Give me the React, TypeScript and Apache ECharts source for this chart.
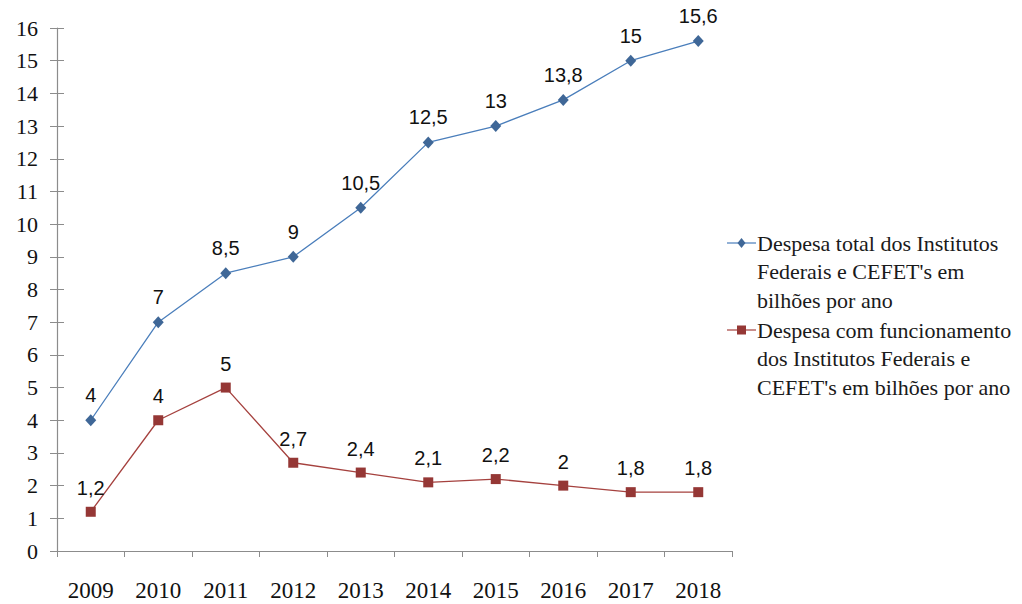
import React, { useEffect, useRef } from "react";
import * as echarts from "echarts";

const years = ["2009", "2010", "2011", "2012", "2013", "2014", "2015", "2016", "2017", "2018"];
const totalSpend = [4, 7, 8.5, 9, 10.5, 12.5, 13, 13.8, 15, 15.6];
const operatingSpend = [1.2, 4, 5, 2.7, 2.4, 2.1, 2.2, 2, 1.8, 1.8];
const legendNames = [
  ["Despesa total dos Institutos", "Federais e CEFET's em", "bilhões por ano"],
  ["Despesa com funcionamento", "dos Institutos Federais e", "CEFET's em bilhões por ano"],
];

const BLUE_LINE = "#4a7ebb";
const BLUE_MARK = "#3f6797";
const RED_LINE = "#a5413e";
const RED_MARK = "#953735";
const AXIS = "#8c8c8c";
const SERIF = "Liberation Serif";
const SANS = "Liberation Sans";

export default function App() {
  const ref = useRef<HTMLDivElement>(null);
  useEffect(() => {
    if (!ref.current) return;
    const chart = echarts.init(ref.current, undefined, { renderer: "svg" });
    const fmt = (p: any) => String(p.value).replace(".", ",");
    const legendGraphic = (idx: number, top: number, color: string, markColor: string, diamond: boolean) => {
      const children: any[] = [
        { type: "line", shape: { x1: 727, y1: top, x2: 756, y2: top }, style: { stroke: color, lineWidth: 1.2 } },
        diamond
          ? { type: "polygon", shape: { points: [[741.5, top - 5], [745.5, top], [741.5, top + 5], [737.5, top]] }, style: { fill: markColor } }
          : { type: "rect", shape: { x: 737, y: top - 4.5, width: 9, height: 9 }, style: { fill: markColor } },
      ];
      legendNames[idx].forEach((t, i) => {
        children.push({
          type: "text",
          x: 757,
          y: top + i * 28.5,
          style: { text: t, fontFamily: SERIF, fontSize: 22, fill: "#1a1a1a", verticalAlign: "middle", align: "left" },
        });
      });
      return { type: "group", children };
    };
    const labelStyle = { show: true, position: "top", distance: 9, formatter: fmt, fontFamily: SANS, fontSize: 20, color: "#111" };
    chart.setOption({
      animation: false,
      backgroundColor: "#ffffff",
      grid: { left: 57, right: 290, top: 28, bottom: 53 },
      xAxis: {
        type: "category",
        data: years,
        boundaryGap: true,
        axisLine: { lineStyle: { color: AXIS, width: 1.2 } },
        axisTick: { show: true, alignWithLabel: false, length: 6, lineStyle: { color: AXIS } },
        axisLabel: { color: "#111", fontFamily: SERIF, fontSize: 23, margin: 28 },
        splitLine: { show: false },
      },
      yAxis: [
        {
          type: "value",
          min: 0,
          max: 16,
          interval: 1,
          axisLine: { show: true, lineStyle: { color: AXIS, width: 1.2 } },
          axisTick: { show: true, length: 7, lineStyle: { color: AXIS } },
          axisLabel: { color: "#111", fontFamily: SERIF, fontSize: 22, margin: 19 },
          splitLine: { show: false },
        },
        {
          type: "value",
          min: 0,
          max: 16,
          interval: 1,
          position: "left",
          axisLine: { show: false },
          axisTick: { show: true, inside: true, length: 7, lineStyle: { color: AXIS } },
          axisLabel: { show: false },
          splitLine: { show: false },
        },
      ],
      series: [
        {
          name: "Despesa total",
          type: "line",
          data: totalSpend,
          symbol: "diamond",
          symbolSize: [11, 12],
          lineStyle: { color: BLUE_LINE, width: 1.3 },
          itemStyle: { color: BLUE_MARK },
          label: labelStyle,
        },
        {
          name: "Despesa com funcionamento",
          type: "line",
          data: operatingSpend,
          symbol: "rect",
          symbolSize: 10,
          lineStyle: { color: RED_LINE, width: 1.3 },
          itemStyle: { color: RED_MARK },
          label: labelStyle,
        },
      ],
      graphic: [
        legendGraphic(0, 243, BLUE_LINE, BLUE_MARK, true),
        legendGraphic(1, 330, RED_LINE, RED_MARK, false),
      ],
    });
    return () => chart.dispose();
  }, []);
  return <div ref={ref} style={{ width: 1022, height: 604, position: "absolute", left: 0, top: 0 }} />;
}
